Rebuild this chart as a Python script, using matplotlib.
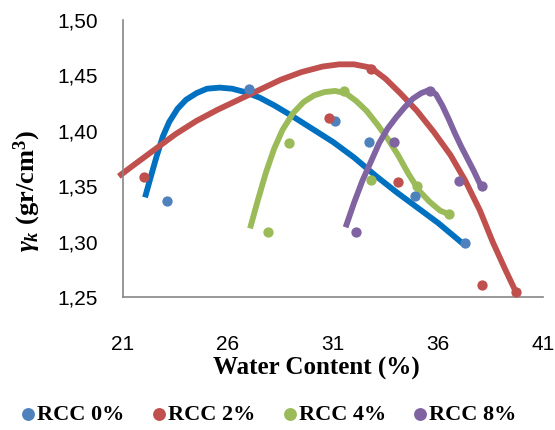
import matplotlib
matplotlib.use("Agg")
import matplotlib.pyplot as plt
from matplotlib.ticker import FuncFormatter

plt.rcParams['mathtext.fontset'] = 'custom'
plt.rcParams['mathtext.rm'] = 'Liberation Serif:bold'
plt.rcParams['mathtext.it'] = 'Liberation Serif:bold:italic'
plt.rcParams['mathtext.bf'] = 'Liberation Serif:bold'

labels = ['RCC 0%', 'RCC 2%', 'RCC 4%', 'RCC 8%']
dot_colors = ['#4F81BD', '#C0504D', '#9BBB59', '#8064A2']
line_colors = ['#0070C0', '#C0504D', '#9BBB59', '#8064A2']

# measured points
x0 = [23.1, 27.0, 31.1, 32.7, 34.9, 37.3]
y0 = [1.337, 1.438, 1.409, 1.390, 1.341, 1.299]
x2 = [22.0, 30.8, 32.8, 34.1, 38.1, 39.7]
y2 = [1.358, 1.412, 1.456, 1.354, 1.261, 1.255]
x4 = [27.9, 28.9, 31.5, 32.8, 35.0, 36.5]
y4 = [1.309, 1.389, 1.436, 1.356, 1.350, 1.325]
x8 = [32.1, 33.9, 35.6, 37.0, 38.1]
y8 = [1.309, 1.390, 1.436, 1.355, 1.350]

# trend curves
cx0 = [22.05, 22.3, 22.6, 22.9, 23.2, 23.6, 24.0, 24.5, 25.0, 25.6, 26.2, 26.8, 27.5,
       28.2, 29.0, 30.0, 31.0, 32.0, 33.0, 34.0, 35.0, 36.0, 37.2]
cy0 = [1.340, 1.357, 1.377, 1.395, 1.408, 1.420, 1.428, 1.434, 1.438, 1.439, 1.438, 1.435, 1.430,
       1.423, 1.414, 1.402, 1.390, 1.376, 1.360, 1.345, 1.331, 1.317, 1.298]
cx2 = [20.8, 21.5, 22.5, 23.5, 24.5, 25.5, 26.5, 27.5, 28.5, 29.5, 30.5, 31.3, 32.0, 32.8,
       33.5, 34.2, 35.0, 35.8, 36.6, 37.3, 38.0, 38.6, 39.2, 39.7]
cy2 = [1.359, 1.369, 1.383, 1.397, 1.409, 1.419, 1.428, 1.437, 1.446, 1.453, 1.458, 1.460, 1.460, 1.457,
       1.447, 1.434, 1.418, 1.399, 1.378, 1.355, 1.328, 1.300, 1.275, 1.255]
cx4 = [27.05, 27.4, 27.8, 28.2, 28.6, 29.1, 29.6, 30.1, 30.6, 31.1, 31.6, 32.1, 32.6, 33.1,
       33.6, 34.1, 34.6, 35.1, 35.6, 36.1, 36.5]
cy4 = [1.312, 1.336, 1.362, 1.384, 1.401, 1.416, 1.426, 1.432, 1.435, 1.436, 1.434, 1.427, 1.418, 1.406,
       1.393, 1.378, 1.361, 1.346, 1.336, 1.328, 1.325]
cx8 = [31.6, 32.0, 32.4, 32.8, 33.2, 33.6, 34.0, 34.4, 34.8, 35.2, 35.6, 35.9, 36.2, 36.5,
       36.8, 37.1, 37.4, 37.7, 38.05]
cy8 = [1.313, 1.335, 1.355, 1.372, 1.389, 1.402, 1.412, 1.421, 1.429, 1.434, 1.437, 1.433, 1.423, 1.411,
       1.398, 1.386, 1.375, 1.364, 1.350]

points = [(x0, y0), (x2, y2), (x4, y4), (x8, y8)]
curves = [(cx0, cy0), (cx2, cy2), (cx4, cy4), (cx8, cy8)]

fig = plt.figure(figsize=(5.55, 4.30), dpi=100)
ax = fig.add_axes([0.2216, 0.309, 0.7568, 0.6445])

for (px, py), (cx, cy), dc, lc, lab in zip(points, curves, dot_colors, line_colors, labels):
    ax.scatter(px, py, s=55, color=dc, zorder=3, label=lab, linewidths=0)
    ax.plot(cx, cy, color=lc, lw=4.2, solid_capstyle='butt', solid_joinstyle='round',
            zorder=2, clip_on=False)

ax.set_xlim(21, 41)
ax.set_ylim(1.25, 1.50)
ax.set_xticks([21, 26, 31, 36, 41])
ax.set_yticks([1.25, 1.30, 1.35, 1.40, 1.45, 1.50])
ax.yaxis.set_major_formatter(FuncFormatter(lambda v, p: f"{v:.2f}".replace('.', ',')))
for s in ['top', 'right']:
    ax.spines[s].set_visible(False)
for s in ['left', 'bottom']:
    ax.spines[s].set_color('#868686')
    ax.spines[s].set_linewidth(1.2)
ax.tick_params(length=0, labelsize=15)
ax.tick_params(axis='x', pad=27)
ax.tick_params(axis='y', pad=18)
for t in ax.get_xticklabels() + ax.get_yticklabels():
    t.set_family('Liberation Sans')

fig.text(0.57, 0.143, 'Water Content (%)', ha='center', va='center',
         family='Liberation Serif', weight='bold', fontsize=18)
fig.text(0.05, 0.556, r'$\gamma_k$ (gr/cm$^3$)', ha='center', va='center', rotation=90,
         family='Liberation Serif', weight='bold', fontsize=19)

fig.legend(loc='center', bbox_to_anchor=(0.485, 0.035), ncol=4, frameon=False,
           prop={'family': 'Liberation Serif', 'weight': 'bold', 'size': 16},
           handlelength=0.6, handletextpad=0.1, columnspacing=1.25, markerscale=1.25,
           borderaxespad=0)

fig.savefig('out.png', dpi=100)
